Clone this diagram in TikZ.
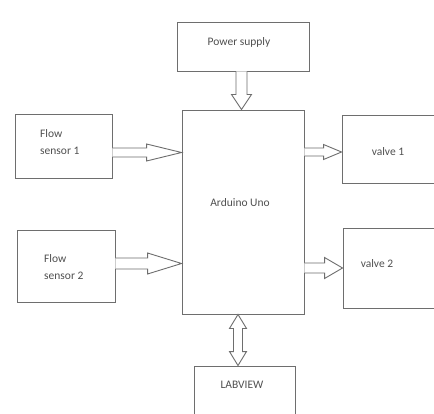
\documentclass[tikz,border=0pt]{standalone}
\usepackage{fontspec}
\setmainfont{Carlito}
\usetikzlibrary{calc}
\definecolor{linec}{HTML}{6E6E6E}
\definecolor{textc}{HTML}{505050}
\tikzset{
  boxnode/.style={draw=linec, line width=0.9pt, rectangle, inner sep=0pt},
  lbl/.style={text=textc, font=\fontsize{11.5}{17}\selectfont, inner sep=0pt},
  blk/.style={draw=linec, line width=0.9pt, fill=white, line join=miter},
}
% horizontal block arrow: start, tip, shaft half width, head half width, head length
\newcommand\harr[5]{%
  \draw[blk] let \p1=(#1), \p2=(#2) in
    (\x1,\y1+#3) -- (\x2-#5,\y1+#3) -- (\x2-#5,\y1+#4) -- (\x2,\y1)
    -- (\x2-#5,\y1-#4) -- (\x2-#5,\y1-#3) -- (\x1,\y1-#3);}
% vertical (downward) block arrow: start (top), tip (bottom)
\newcommand\varr[5]{%
  \draw[blk] let \p1=(#1), \p2=(#2) in
    (\x1-#3,\y1) -- (\x1-#3,\y2+#5) -- (\x1-#4,\y2+#5) -- (\x1,\y2)
    -- (\x1+#4,\y2+#5) -- (\x1+#3,\y2+#5) -- (\x1+#3,\y1);}
% vertical double block arrow
\newcommand\vdarr[5]{%
  \draw[blk] let \p1=(#1), \p2=(#2) in
    (\x1,\y1) -- (\x1+#4,\y1-#5) -- (\x1+#3,\y1-#5) -- (\x1+#3,\y2+#5)
    -- (\x1+#4,\y2+#5) -- (\x1,\y2) -- (\x1-#4,\y2+#5) -- (\x1-#3,\y2+#5)
    -- (\x1-#3,\y1-#5) -- (\x1-#4,\y1-#5) -- cycle;}
\begin{document}
\begin{tikzpicture}[x=1pt, y=-1pt]
\useasboundingbox[fill=white] (0,0) rectangle (434,414);
\begin{scope}
\clip (0,0) rectangle (434,414);
\node[boxnode, minimum width=132pt, minimum height=49pt] (ps) at (243,46.5) {};
\node[boxnode, minimum width=122pt, minimum height=204pt] (ard) at (243,212) {};
\node[boxnode, minimum width=97pt, minimum height=64pt] (f1) at (63.5,146) {};
\node[boxnode, minimum width=98pt, minimum height=72pt] (f2) at (66,266) {};
\node[boxnode, minimum width=100pt, minimum height=68pt] (v1) at (392,149) {};
\node[boxnode, minimum width=100pt, minimum height=80pt] (v2) at (393,268) {};
\node[boxnode, minimum width=101pt, minimum height=60pt] (lab) at (244.5,396) {};
\end{scope}

\node[lbl] (tps) at (239,42) {Power supply};
\node[lbl] (tard) at (240,203) {Arduino Uno};
\node[lbl, anchor=west, align=left] (tf1) at (40,142.5) {Flow\\sensor 1};
\node[lbl, anchor=west, align=left] (tf2) at (44,267) {Flow\\sensor 2};
\node[lbl] (tv1) at (388,152) {valve 1};
\node[lbl] (tv2) at (377,264) {valve 2};
\node[lbl] (tlab) at (242,385) {LABVIEW};

% arrows
\coordinate (a1s) at (f1.east |- 0,152.5);
\coordinate (a1e) at (ard.west |- a1s);
\harr{a1s}{a1e}{4.5pt}{8.5pt}{35pt}
\coordinate (a2s) at (f2.east |- 0,263.5);
\coordinate (a2e) at (ard.west |- a2s);
\harr{a2s}{a2e}{5.5pt}{10.5pt}{34pt}
\coordinate (a3s) at (ard.east |- 0,152);
\coordinate (a3e) at (v1.west |- a3s);
\harr{a3s}{a3e}{4pt}{7.5pt}{18pt}
\coordinate (a4s) at (ard.east |- 0,268);
\coordinate (a4e) at (v2.west |- a4s);
\harr{a4s}{a4e}{5pt}{10.5pt}{18pt}
\coordinate (a5s) at (ps.south -| 241.5,0);
\coordinate (a5e) at (ard.north -| a5s);
\varr{a5s}{a5e}{5.5pt}{10pt}{15pt}
\coordinate (a6s) at (ard.south -| 238,0);
\coordinate (a6e) at (lab.north -| a6s);
\vdarr{a6s}{a6e}{4.5pt}{8.5pt}{14pt}
\end{tikzpicture}
\end{document}
